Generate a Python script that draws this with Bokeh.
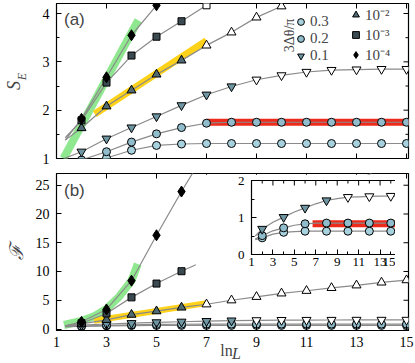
import math
from bokeh.plotting import figure
from bokeh.models import Range1d, FixedTicker, Label, Legend, LegendItem, GridBox, LinearAxis
from bokeh.embed import file_html
from bokeh.resources import INLINE

# ---------------- data ----------------
lnL = [2, 3, 4, 5, 6, 7, 8, 9, 10, 11, 12, 13, 14, 15]

# panel (a): S_E
a_s03 = [0.90, 1.01, 1.17, 1.27, 1.30, 1.31, 1.31, 1.31, 1.31, 1.31, 1.31, 1.31, 1.31, 1.31]
a_s02 = [0.97, 1.14, 1.34, 1.51, 1.64, 1.73, 1.75, 1.75, 1.75, 1.75, 1.75, 1.75, 1.75, 1.75]
a_s01 = [1.14, 1.41, 1.64, 1.87, 2.10, 2.32, 2.49, 2.63, 2.72, 2.79, 2.83, 2.84, 2.85, 2.85]
a_s1e2 = [1.63, 2.08, 2.41, 2.74, 3.03, 3.34, 3.61, 3.92, 4.15]
a_s1e3 = [1.79, 2.57, 3.13, 3.52, 3.84, 4.17]
a_s1e4 = [1.82, 2.68, 3.55, 4.17]

# panel (b): fidelity susceptibility F
b_f03 = [0.45, 0.55, 0.60, 0.62, 0.63, 0.63, 0.63, 0.63, 0.63, 0.63, 0.63, 0.63, 0.63, 0.63]
b_f02 = [0.51, 0.64, 0.72, 0.79, 0.83, 0.85, 0.85, 0.85, 0.85, 0.85, 0.85, 0.85, 0.85, 0.85]
b_f01 = [0.69, 0.87, 1.01, 1.15, 1.26, 1.37, 1.46, 1.51, 1.55, 1.56, 1.57, 1.58, 1.58, 1.58]
b_f1e2 = [0.9, 1.6, 2.5, 3.1, 3.75, 4.3, 5.0, 5.6, 6.2, 6.65, 7.15, 7.6, 8.1, 8.5]
b_f1e3 = [1.0, 2.7, 5.5, 7.9, 10.05, 12.0]
b_f1e4 = [1.25, 3.4, 8.4, 16.3, 23.9]

# starting / ending points of the grey guide curves
a_curve_start = {"0.1": (1.3, 1.0), "1e-2": (1.35, 1.38), "1e-3": (1.35, 1.43), "1e-4": (1.35, 1.38)}
b_curve_start = {"0.3": (1.35, 0.40), "0.2": (1.35, 0.42), "0.1": (1.35, 0.50),
                 "1e-2": (1.35, 0.60), "1e-3": (1.35, 0.50), "1e-4": (1.35, 0.55)}
b_curve_end = {"1e-3": (13.6, 27.1), "1e-4": (6.5, 27.5)}

# first lnL drawn with open markers
open_from = {"0.1": 9, "1e-2": 7, "1e-3": 7}

# coloured guide bands
green_a_x, green_a_y = [1.28, 4.27], [1.0, 3.86]
yellow_a_x, yellow_a_y = [2.53, 7.0], [1.92, 3.44]
red_a_x, red_a_y = [7.0, 15.2], [1.75, 1.75]
green_b_x = [1.3, 2.0, 2.5, 3.0, 3.5, 4.0, 4.25]
green_b_y = [0.7, 1.4, 2.2, 3.5, 5.6, 8.4, 11.3]
yellow_b_x, yellow_b_y = [2.5, 7.0], [1.45, 4.5]
red_in_x, red_in_y = [6.7, 15.2], [0.83, 0.83]

x_ticks = [1, 3, 5, 7, 9, 11, 13, 15]
a_yticks, a_yminor = [1, 2, 3, 4], [1.5, 2.5, 3.5]
b_yticks = [0, 5, 10, 15, 20, 25]
in_xminor = [2, 4, 6, 8, 10, 12, 14]
in_yticks, in_yminor = [0, 1, 2], [0.5, 1.5]

# ---------------- styles ----------------
COL = {"0.3": "#a8d1de", "0.2": "#90bccb", "0.1": "#6f97a3",
       "1e-2": "#4f6a73", "1e-3": "#3a4a50", "1e-4": "#000000"}
MARK = {"0.3": ("circle", 8), "0.2": ("circle", 8), "0.1": ("inverted_triangle", 9),
        "1e-2": ("triangle", 9), "1e-3": ("square", 7), "1e-4": ("diamond", 11)}
GREY = "#8a8a8a"
SERIF = "Liberation Serif"
NB = "\u00a0"


def base_axes(p, xticks, xminor, yticks, yminor, fsize, xaxis=True):
    p.xgrid.visible = False
    p.ygrid.visible = False
    p.outline_line_color = "black"
    p.outline_line_width = 1.2
    p.background_fill_color = "white"
    axes = list(p.yaxis) + (list(p.xaxis) if xaxis else [])
    for ax in p.yaxis:
        ax.ticker = FixedTicker(ticks=yticks, minor_ticks=yminor)
        ax.major_label_standoff = 7
    if xaxis:
        for ax in p.xaxis:
            ax.ticker = FixedTicker(ticks=xticks, minor_ticks=xminor)
            ax.major_label_standoff = 6
    for ax in axes:
        ax.major_tick_in = 5
        ax.major_tick_out = 0
        ax.minor_tick_in = 3
        ax.minor_tick_out = 0
        ax.axis_line_color = "black"
        ax.major_label_text_font = SERIF
        ax.major_label_text_font_size = f"{fsize}px"
        ax.major_label_text_color = "black"


def label_axis(text, size, standoff, italic=True):
    """an axis without ticks that only carries a (partial) axis title"""
    return LinearAxis(ticker=FixedTicker(ticks=[]), axis_line_color=None,
                      major_tick_line_color=None, minor_tick_line_color=None,
                      major_label_standoff=0, major_tick_out=0, minor_tick_out=0,
                      axis_label=text, axis_label_standoff=standoff,
                      axis_label_text_font=SERIF, axis_label_text_font_size=f"{size}px",
                      axis_label_text_font_style="italic" if italic else "normal")


def edge_ticks(p, xr, yr, xticks, xminor, yticks, yminor, bottom=False):
    """inward tick marks on the unlabeled sides of the frame"""
    top, rgt, bot = yr.end, xr.end, yr.start
    p.ray(x=xticks, y=[top] * len(xticks), length=5, length_units="screen",
          angle=-math.pi / 2, line_color="black", line_width=1)
    if xminor:
        p.ray(x=xminor, y=[top] * len(xminor), length=3, length_units="screen",
              angle=-math.pi / 2, line_color="black", line_width=1)
    p.ray(x=[rgt] * len(yticks), y=yticks, length=5, length_units="screen",
          angle=math.pi, line_color="black", line_width=1)
    if yminor:
        p.ray(x=[rgt] * len(yminor), y=yminor, length=3, length_units="screen",
              angle=math.pi, line_color="black", line_width=1)
    if bottom:
        p.ray(x=xticks, y=[bot] * len(xticks), length=5, length_units="screen",
              angle=math.pi / 2, line_color="black", line_width=1)


def series(p, xs, ys, start=None, end=None):
    cx, cy = list(xs), list(ys)
    if start:
        cx, cy = [start[0]] + cx, [start[1]] + cy
    if end:
        cx, cy = cx + [end[0]], cy + [end[1]]
    p.line(cx, cy, line_color=GREY, line_width=1.2)


def markers(p, key, xs, ys, every=1):
    m, s = MARK[key]
    thr = open_from.get(key, 99)
    pts = [(x, y) for x, y in zip(xs, ys) if x % every == 0]
    fx = [x for x, y in pts if x < thr]
    fy = [y for x, y in pts if x < thr]
    ox = [x for x, y in pts if x >= thr]
    oy = [y for x, y in pts if x >= thr]
    r = p.scatter(fx, fy, marker=m, size=s, fill_color=COL[key], line_color="black", line_width=1)
    if ox:
        p.scatter(ox, oy, marker=m, size=s, fill_color="white", line_color="black", line_width=1)
    return r


# ---------------- panel (a) ----------------
xa, ya = Range1d(1, 15.08), Range1d(1, 4.207)
pa = figure(frame_width=352, frame_height=155, x_range=xa, y_range=ya,
            toolbar_location=None, output_backend="svg", x_axis_location=None,
            min_border_left=50, min_border_right=13, min_border_top=3, min_border_bottom=9)
base_axes(pa, x_ticks, [], a_yticks, a_yminor, 14, xaxis=False)
edge_ticks(pa, xa, ya, x_ticks, [], a_yticks, a_yminor, bottom=True)
# y title S_E : subscript E on the main axis, S on an outer title-only axis
for ax in pa.yaxis:
    ax.axis_label = NB * 3 + "E"
    ax.axis_label_text_font = SERIF
    ax.axis_label_text_font_style = "italic"
    ax.axis_label_text_font_size = "12px"
    ax.axis_label_standoff = 11
pa.add_layout(label_axis("S" + NB * 2, 18, -12), "left")

pa.line(green_a_x, green_a_y, line_color="#8fe88f", line_width=8)
pa.line(yellow_a_x, yellow_a_y, line_color="#ffd21a", line_width=7)
pa.line(red_a_x, red_a_y, line_color="#ee2a1a", line_width=7)

a_data = {"0.3": (lnL, a_s03), "0.2": (lnL, a_s02), "0.1": (lnL, a_s01),
          "1e-2": (lnL[:len(a_s1e2)], a_s1e2), "1e-3": (lnL[:len(a_s1e3)], a_s1e3),
          "1e-4": (lnL[:len(a_s1e4)], a_s1e4)}
for k, (xs, ys) in a_data.items():
    series(pa, xs, ys, start=a_curve_start.get(k))
rend = {k: markers(pa, k, xs, ys) for k, (xs, ys) in a_data.items()}

leg1 = Legend(items=[LegendItem(label="0.3", renderers=[rend["0.3"]]),
                     LegendItem(label="0.2", renderers=[rend["0.2"]]),
                     LegendItem(label="0.1", renderers=[rend["0.1"]])],
              location=(236, 94))
leg2 = Legend(items=[LegendItem(label="10⁻²", renderers=[rend["1e-2"]]),
                     LegendItem(label="10⁻³", renderers=[rend["1e-3"]]),
                     LegendItem(label="10⁻⁴", renderers=[rend["1e-4"]])],
              location=(291, 94))
for lg in (leg1, leg2):
    lg.glyph_width = 17
    lg.glyph_height = 17
    lg.label_height = 14
    lg.spacing = 0
    lg.padding = 0
    lg.margin = 0
    lg.label_standoff = 1
    lg.border_line_color = None
    lg.background_fill_alpha = 0
    lg.label_text_font = SERIF
    lg.label_text_font_size = "15px"
    pa.add_layout(lg)

pa.add_layout(Label(x=10.32, y=3.545, text="3Δθ/π", angle=math.pi / 2, text_align="center",
                    text_baseline="middle", text_font=SERIF, text_font_size="14px"))
pa.add_layout(Label(x=1.3, y=3.87, text="(a)", text_align="left", text_baseline="middle",
                    text_font="Liberation Sans", text_font_size="17px"))

# ---------------- panel (b) ----------------
xb, yb = Range1d(1, 15.08), Range1d(-0.26, 27.04)
pb = figure(frame_width=352, frame_height=157, x_range=xb, y_range=yb,
            toolbar_location=None, output_backend="svg",
            min_border_left=50, min_border_right=13, min_border_top=3, min_border_bottom=30)
base_axes(pb, x_ticks, [], b_yticks, [], 14)
edge_ticks(pb, xb, yb, x_ticks, [], b_yticks, [])
for ax in pb.yaxis:
    ax.axis_label = "ℱ"
    ax.axis_label_text_font = "DejaVu Serif"
    ax.axis_label_text_font_style = "italic"
    ax.axis_label_text_font_size = "19px"
    ax.axis_label_standoff = 6
# x title lnL : "ln" on the main axis, italic "L" on a title-only axis
for ax in pb.xaxis:
    ax.axis_label = "ln" + NB * 3
    ax.axis_label_text_font = SERIF
    ax.axis_label_text_font_style = "normal"
    ax.axis_label_text_font_size = "16px"
    ax.axis_label_standoff = -8
pb.add_layout(label_axis(NB * 2 + "L", 16, -17), "below")

pb.line(green_b_x, green_b_y, line_color="#8fe88f", line_width=8)
pb.line(yellow_b_x, yellow_b_y, line_color="#ffd21a", line_width=6)

b_data = {"0.3": (lnL, b_f03), "0.2": (lnL, b_f02), "0.1": (lnL, b_f01),
          "1e-2": (lnL, b_f1e2), "1e-3": (lnL[:len(b_f1e3)], b_f1e3),
          "1e-4": (lnL[:len(b_f1e4)], b_f1e4)}
for k, (xs, ys) in b_data.items():
    series(pb, xs, ys, start=b_curve_start.get(k), end=b_curve_end.get(k))
for k, (xs, ys) in b_data.items():
    markers(pb, k, xs, ys)

pb.add_layout(Label(x=1.3, y=24.1, text="(b)", text_align="left", text_baseline="middle",
                    text_font="Liberation Sans", text_font_size="17px"))

# ---------------- inset ----------------
xi, yi = Range1d(1, 15), Range1d(0, 2)
pin = figure(frame_width=150, frame_height=74, x_range=xi, y_range=yi,
             toolbar_location=None, output_backend="svg",
             min_border_left=33, min_border_right=17, min_border_top=6, min_border_bottom=18)
pin.border_fill_color = "white"
base_axes(pin, x_ticks, in_xminor, in_yticks, in_yminor, 13)
for ax in pin.xaxis:
    ax.major_label_standoff = 3
edge_ticks(pin, xi, yi, x_ticks, in_xminor, in_yticks, in_yminor)
pin.line(red_in_x, red_in_y, line_color="#ee2a1a", line_width=7)
for k in ("0.3", "0.2", "0.1"):
    xs, ys = b_data[k]
    series(pin, xs, ys, start=b_curve_start.get(k))
for k in ("0.3", "0.2", "0.1"):
    xs, ys = b_data[k]
    markers(pin, k, xs, ys, every=2)

pin.margin = (7, 0, 0, 195)
pin.align = "start"
pa.align = "start"
pb.align = "start"

grid = GridBox(children=[(pa, 0, 0), (pb, 1, 0), (pin, 1, 0)], spacing=0)

open("out.html", "w").write(file_html(grid, INLINE))
